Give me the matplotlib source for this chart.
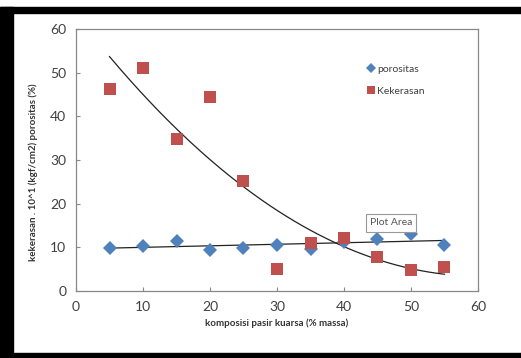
import numpy as np
import matplotlib
matplotlib.use("Agg")
import matplotlib.pyplot as plt
from matplotlib.patches import Rectangle

komposisi = [5, 10, 15, 20, 25, 30, 35, 40, 45, 50, 55]
porositas = [9.9, 10.2, 11.4, 9.4, 9.9, 10.6, 9.7, 11.2, 11.8, 13.0, 10.6]
kekerasan = [46.3, 51.1, 34.8, 44.4, 25.3, 5.1, 11.1, 12.2, 7.8, 4.8, 5.6]

xticks = [0, 10, 20, 30, 40, 50, 60]
yticks = [0, 10, 20, 30, 40, 50, 60]

plt.rcParams['font.family'] = ['Lato', 'DejaVu Sans']

fig = plt.figure(figsize=(5.21, 3.58), dpi=100)
fig.patch.set_facecolor('white')
ax = fig.add_axes([76/521, 1-291/358, (478-76)/521, (291-29)/358])

blue = '#4F81BD'
red = '#C0504D'

x = np.array(komposisi, dtype=float)
# trendlines
cp = np.polyfit(x, porositas, 1)
ck = np.polyfit(x, kekerasan, 2)
xs = np.linspace(5, 55, 200)
ax.plot(xs, np.polyval(cp, xs), color='#222222', lw=0.9, zorder=3)
ax.plot(xs, np.polyval(ck, xs), color='#222222', lw=0.9, zorder=3)

ax.plot(x, porositas, 'D', color=blue, markersize=7, label='porositas', zorder=4,
        markeredgewidth=0)
ax.plot(x, kekerasan, 's', color=red, markersize=8.3, label='Kekerasan', zorder=5,
        markeredgewidth=0)

ax.set_xlim(0, 60)
ax.set_ylim(0, 60)
ax.set_xticks(xticks)
ax.set_yticks(yticks)
ax.tick_params(direction='in', length=3, width=0.8, color='#888888',
               labelsize=10, labelcolor='#404040', pad=7)
for s in ax.spines.values():
    s.set_color('#888888')
    s.set_linewidth(0.9)

ax.set_xlabel('komposisi pasir kuarsa (% massa)', fontsize=7, fontweight='bold',
              color='#333333', labelpad=4)
fig.text(33/521, 1-172/358, 'kekerasan . 10^1 (kgf/cm2) porositas (%)', rotation=90,
         fontsize=7, fontweight='bold', color='#333333', ha='center', va='center')

leg = ax.legend(loc='upper left', bbox_to_anchor=(0.712, 0.885), frameon=False,
                fontsize=7.5, handlelength=0.6, handletextpad=0.35,
                labelspacing=1.25, borderpad=0, markerscale=0.7)
for t in leg.get_texts():
    t.set_color('#404040')

ax.text(47, 15.6, 'Plot Area', fontsize=7.5, color='#555555', ha='center', va='center',
        bbox=dict(boxstyle='square,pad=0.4', fc='white', ec='#999999', lw=0.8), zorder=6)

# black frame bands
fig.patches.append(Rectangle((0, 1-13/358), 1, 6/358, transform=fig.transFigure,
                             color='black', zorder=10))
fig.patches.append(Rectangle((0, 0), 13/521, 1-7/358, transform=fig.transFigure,
                             color='black', zorder=10))
fig.patches.append(Rectangle((0, 0), 1, 5/358, transform=fig.transFigure,
                             color='black', zorder=10))

fig.savefig('out.png', dpi=100)
